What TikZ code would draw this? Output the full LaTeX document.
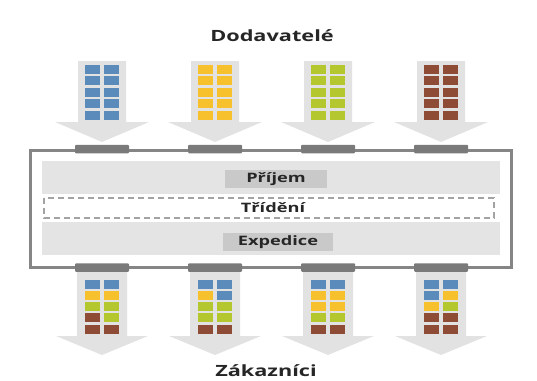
\documentclass[tikz,border=0pt]{standalone}
\usepackage{fontspec}
\setsansfont{Open Sans}
\definecolor{sqblue}{HTML}{5B8BBA}
\definecolor{sqyellow}{HTML}{F6C12C}
\definecolor{sqgreen}{HTML}{B4C72E}
\definecolor{sqbrown}{HTML}{8E4B36}
\definecolor{flowgray}{HTML}{E2E2E2}
\definecolor{bandgray}{HTML}{E4E4E4}
\definecolor{tabgray}{HTML}{C9C9C9}
\definecolor{framegray}{HTML}{858585}
\definecolor{bargray}{HTML}{7A7A7A}
\begin{document}
\begin{tikzpicture}[x=1pt, y=-1pt]
        \tikzstyle{flow} = [fill=flowgray, draw=none]
        \tikzstyle{band} = [fill=bandgray, draw=none]
        \tikzstyle{sq} = [draw=none, minimum width=15pt, minimum height=9pt, inner sep=0pt]
        \tikzstyle{bar} = [fill=bargray, rounded corners=1pt, minimum width=54pt, minimum height=8.5pt, inner sep=0pt]
        \tikzstyle{txt} = [font=\sffamily\bfseries, text=black!85, xscale=1.4, transform shape, inner sep=0pt]
        \tikzstyle{tab} = [fill=tabgray, minimum height=18pt, inner sep=0pt]
        \useasboundingbox (0,0) rectangle (537,380);
        \node[txt, font=\sffamily\bfseries\fontsize{15.5}{18}\selectfont] (supp) at (272, 36) {Dodavatelé};
        \node[txt, font=\sffamily\bfseries\fontsize{15.5}{18}\selectfont] (cust) at (266, 371) {Zákazníci};
        % inbound arrows, one colour each
        \foreach \cx/\col [count=\k] in {102/sqblue, 215/sqyellow, 328/sqgreen, 441/sqbrown} {
          \fill[flow] (\cx-24,61) -- (\cx+24,61) -- (\cx+24,122) -- (\cx+47,122) -- (\cx,142)
            -- (\cx-47,122) -- (\cx-24,122) -- cycle;
          \foreach \r in {0,...,4} {
            \node[sq, fill=\col] (in\k-\r-l) at (\cx-9.5, 69.5+11.4*\r) {};
            \node[sq, fill=\col] (in\k-\r-r) at (\cx+9, 69.5+11.4*\r) {};
          }
        }
        % outbound arrows, mixed
        \foreach \cx/\pat [count=\k] in {
            102/{sqblue,sqblue,sqyellow,sqyellow,sqgreen,sqgreen,sqbrown,sqgreen,sqbrown,sqbrown},
            215/{sqblue,sqblue,sqyellow,sqblue,sqgreen,sqgreen,sqgreen,sqgreen,sqbrown,sqbrown},
            328/{sqblue,sqblue,sqyellow,sqyellow,sqyellow,sqyellow,sqgreen,sqgreen,sqbrown,sqbrown},
            441/{sqblue,sqblue,sqblue,sqyellow,sqyellow,sqgreen,sqbrown,sqbrown,sqbrown,sqbrown}} {
          \fill[flow] (\cx-25,272) -- (\cx+25,272) -- (\cx+25,336) -- (\cx+46,336) -- (\cx,355)
            -- (\cx-46,336) -- (\cx-25,336) -- cycle;
          \foreach \c [count=\i from 0] in \pat {
            \pgfmathtruncatemacro{\row}{int(\i/2)}
            \pgfmathsetmacro{\dx}{mod(\i,2)==0 ? -9.5 : 9}
            \node[sq, fill=\c] (out\k-\i) at (\cx+\dx, 284+11.3*\row) {};
          }
        }
        % warehouse
        \draw[framegray, line width=3pt] (30,150) rectangle (511,267);
        \fill[band] (42,161) rectangle (500,194);
        \draw[framegray!75, line width=1.2pt, dash pattern=on 6pt off 4pt, fill=white] (44,198) rectangle (494,218);
        \fill[band] (42,222) rectangle (500,255);
        \foreach \cx [count=\k] in {102, 215, 328, 441} {
          \node[bar] (gin\k) at (\cx, 149) {};
          \node[bar] (gout\k) at (\cx, 267.5) {};
        }
        \node[tab, minimum width=102pt] (recv) at (276, 179) {};
        \node[txt, font=\sffamily\bfseries\fontsize{13}{15}\selectfont] (recvt) at (recv) {Příjem};
        \node[txt, font=\sffamily\bfseries\fontsize{13}{15}\selectfont] (sort) at (273, 208) {Třídění};
        \node[tab, minimum width=110pt] (ship) at (278, 242) {};
        \node[txt, font=\sffamily\bfseries\fontsize{13}{15}\selectfont] (shipt) at (ship) {Expedice};
      \end{tikzpicture}
\end{document}
